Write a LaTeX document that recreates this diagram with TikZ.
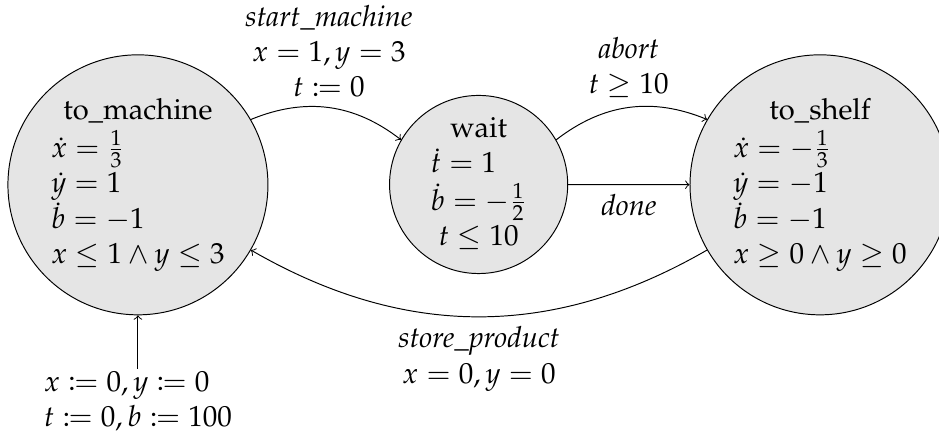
\documentclass[tikz,border=0pt,12pt]{standalone}
\usepackage[T1]{fontenc}
\usepackage{mathpazo}
\usepackage{mathtools}

\tikzset{
    loc/.style={circle, draw, fill=black!10, inner sep=1pt},
    bigloc/.style={loc, minimum size=3.77cm},
    smallloc/.style={loc, minimum size=2.57cm}
}

\begin{document}
\begin{tikzpicture}[>=to]
        \useasboundingbox (0,0) rectangle (13.6155,-6.3655);

        % Locazioni
        \node[bigloc] (machine) at (2.00,-2.68) {\begin{tabular}{@{}l@{}}
            \multicolumn{1}{@{}c@{}}{to\_machine}\\
            $\dot{x}=\frac{1}{3}$\\
            $\dot{y}=1$\\
            $\dot{b}=-1$\\
            \multicolumn{1}{@{}c@{}}{$x\leq 1\wedge y\leq 3$}
        \end{tabular}};
        \node[smallloc] (wait) at (6.94,-2.675) {\begin{tabular}{@{}l@{}}
            \multicolumn{1}{@{}c@{}}{wait}\\
            $\dot{t}=1$\\
            $\dot{b}=-\frac{1}{2}$\\
            \multicolumn{1}{@{}c@{}}{$t\leq 10$}
        \end{tabular}};
        \node[bigloc] (shelf) at (11.89,-2.68) {\begin{tabular}{@{}l@{}}
            \multicolumn{1}{@{}c@{}}{to\_shelf}\\
            $\dot{x}=-\frac{1}{3}$\\
            $\dot{y}=-1$\\
            $\dot{b}=-1$\\
            \multicolumn{1}{@{}c@{}}{$x\geq 0\wedge y\geq 0$}
        \end{tabular}};

        % Transizioni
        \draw[->] (machine) to[bend left=30]
            node[above, align=center] {\textit{start\_machine}\\ $x=1, y=3$\\ $t\coloneqq 0$} (wait);
        \draw[->] (wait) to[bend left=30]
            node[above, align=center] {\textit{abort}\\ $t\geq 10$} (shelf);
        \draw[->] (wait) -- node[below] {\textit{done}} (shelf);
        \draw[->] (shelf) to[bend left=30]
            node[below, align=center] {\textit{store\_product}\\ $x=0, y=0$} (machine);

        % Stato iniziale
        \node[anchor=north, align=left, inner sep=1pt] (reset) at (2.00,-5.35)
            {$x\coloneqq 0, y\coloneqq 0$\\ $t\coloneqq 0, b\coloneqq 100$};
        \draw[->] (reset) -- (machine);
    \end{tikzpicture}
\end{document}
